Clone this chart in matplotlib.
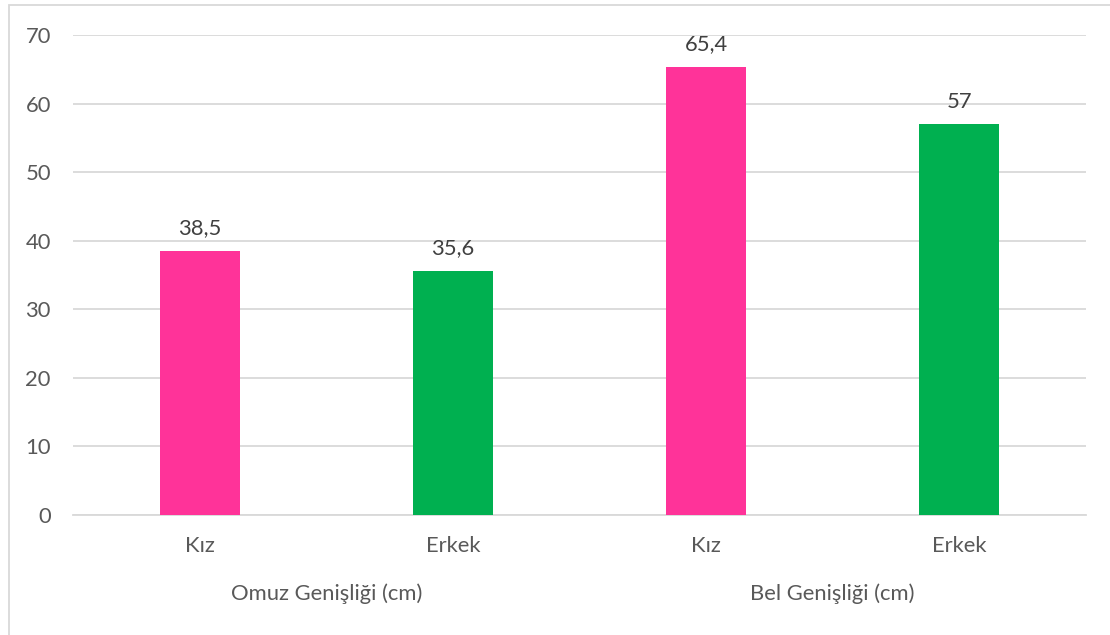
import matplotlib
matplotlib.use("Agg")
import matplotlib.pyplot as plt
from matplotlib.patches import Rectangle
from matplotlib.transforms import blended_transform_factory

categories = ["Kız", "Erkek", "Kız", "Erkek"]
groups = ["Omuz Genişliği (cm)", "Bel Genişliği (cm)"]
values = [38.5, 35.6, 65.4, 57]
value_labels = ["38,5", "35,6", "65,4", "57"]
colors = ["#FF3399", "#00B050", "#FF3399", "#00B050"]
yticks = [0, 10, 20, 30, 40, 50, 60, 70]

plt.rcParams['font.family'] = ['Lato', 'DejaVu Sans']
FS = 15.8

W, H = 1110, 635
fig = plt.figure(figsize=(W / 100, H / 100), dpi=100)
fig.patch.set_facecolor("white")

# outer chart border (only top and left visible)
fig.patches.append(Rectangle((8.5 / W, -0.05), 1.2, (H - 5) / H + 0.05,
                             transform=fig.transFigure, fill=False,
                             edgecolor="#D9D9D9", linewidth=1.3))

left, right, top, bottom = 73, 1086, 35, 515
ax = fig.add_axes([left / W, (H - bottom) / H, (right - left) / W, (bottom - top) / H])

x = list(range(len(values)))
ax.bar(x, values, width=0.316, color=colors, zorder=3)
ax.set_xlim(-0.5, len(values) - 0.5)
ax.set_ylim(0, 70)
ax.set_yticks(yticks)
ax.yaxis.grid(True, color="#D9D9D9", linewidth=1.3, zorder=0)
ax.set_axisbelow(True)
for s in ["top", "right", "left"]:
    ax.spines[s].set_visible(False)
ax.spines["bottom"].set_color("#D9D9D9")
ax.spines["bottom"].set_linewidth(1.3)
ax.tick_params(axis="both", length=0, labelsize=FS, labelcolor="#595959")
ax.tick_params(axis="y", pad=16)
ax.tick_params(axis="x", pad=15)
ax.set_xticks(x)
ax.set_xticklabels(categories)

for xi, v, lab in zip(x, values, value_labels):
    ax.annotate(lab, (xi, v), xytext=(0, 9), textcoords="offset points",
                ha="center", va="bottom", fontsize=FS, color="#404040")

trans = blended_transform_factory(ax.transData, ax.transAxes)
for gi, g in enumerate(groups):
    cx = (x[2 * gi] + x[2 * gi + 1]) / 2
    ax.text(cx, -(594 - bottom) / (bottom - top), g, transform=trans,
            ha="center", va="center", fontsize=FS, color="#595959")

fig.savefig("out.png", dpi=100)
